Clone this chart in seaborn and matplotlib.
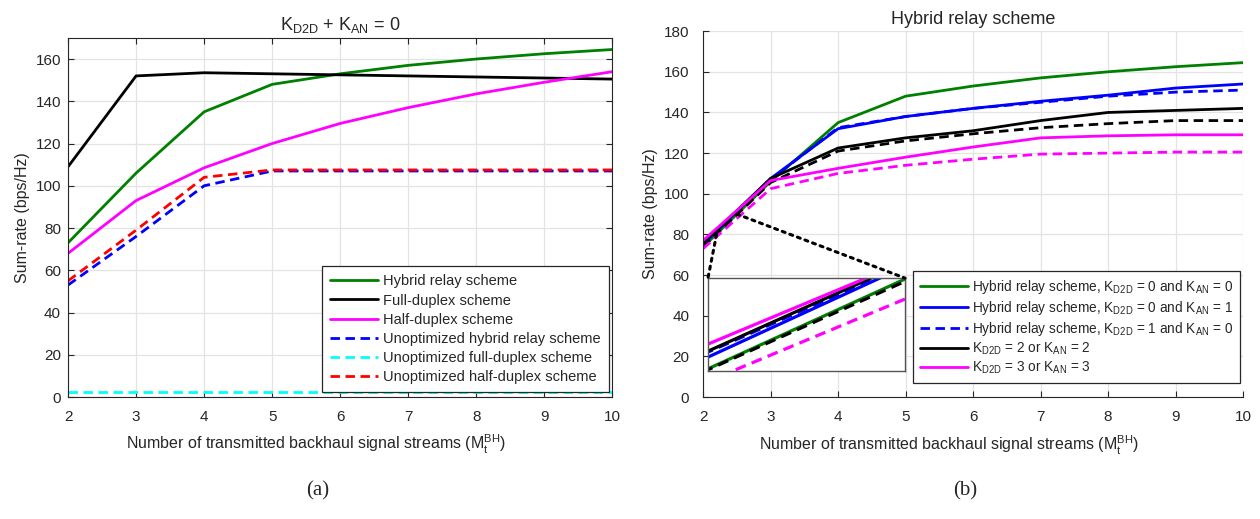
import numpy as np
import pandas as pd
import matplotlib
matplotlib.use("Agg")
import matplotlib.pyplot as plt
import seaborn as sns
from matplotlib.patches import ConnectionPatch

# =========================
# Data
# =========================
streams = [2, 3, 4, 5, 6, 7, 8, 9, 10]

# (a) K_D2D + K_AN = 0
hybrid = [73, 106, 135, 148, 153, 157, 160, 162.5, 164.5]
full_duplex = [109, 152, 153.5, 153, 152.5, 152, 151.5, 151, 150.5]
half_duplex = [68, 93, 108.5, 120, 129.5, 137, 143.5, 149, 154]
unopt_hybrid = [53, 76, 100, 107, 107, 107, 107, 107, 107]
unopt_full = [2.5, 2.5, 2.5, 2.5, 2.5, 2.5, 2.5, 2.5, 2.5]
unopt_half = [55, 79, 104, 107.5, 107.5, 107.5, 107.5, 107.5, 107.5]

# (b) Hybrid relay scheme
k00 = [73.8, 106, 135, 148, 153, 157, 160, 162.5, 164.5]
k01 = [75, 107.5, 132, 138, 142, 145.5, 148.5, 152, 154]
k10 = [75.8, 107, 132.5, 138, 142, 145, 148, 150, 151]
k2_solid = [75.8, 107.5, 122.5, 127.5, 131, 136, 140, 141, 142]
k2_dash = [73.8, 105.5, 121, 126, 129.5, 132.5, 134.5, 136, 136]
k3_solid = [77, 106.5, 112.5, 118, 123, 127.5, 128.5, 129, 129]
k3_dash = [73, 102.5, 110, 114, 117, 119.5, 120, 120.5, 120.5]

zoom_x = [2.2, 2.5]
zoom_y = [80, 90]

GREEN, BLUE, MAG, CYAN, RED = "#008000", "#0000ff", "#ff00ff", "#00ffff", "#ff0000"
DARK = "#262626"

sns.set_theme(style="whitegrid")
plt.rcParams["font.family"] = ["Liberation Sans", "DejaVu Sans"]
plt.rcParams["mathtext.fontset"] = "custom"
plt.rcParams["mathtext.rm"] = "Liberation Sans"
plt.rcParams["mathtext.it"] = "Liberation Sans"

fig = plt.figure(figsize=(12.6, 5.19), dpi=100)
ax1 = fig.add_axes([0.054, 0.235, 0.432, 0.692])
ax2 = fig.add_axes([0.558, 0.235, 0.4286, 0.705])

LW = 2.0


def draw(ax, y, color, ls="-", label=None, lw=LW):
    sns.lineplot(x=streams, y=y, ax=ax, color=color, linewidth=lw,
                 linestyle=ls, label=label, legend=False)
    if ls == "--":
        ax.lines[-1].set_dashes((3.4, 2.0))


def style_axes(ax, box, ypad):
    ax.set_facecolor("white")
    ax.grid(True, color="#e3e3e3", linewidth=0.9)
    ax.set_axisbelow(True)
    for side, sp in ax.spines.items():
        sp.set_color(DARK)
        sp.set_linewidth(0.8)
        if not box and side in ("top", "right"):
            sp.set_visible(False)
    ax.tick_params(direction="in", length=4, width=0.8, colors=DARK,
                   labelsize=11, top=box, right=box, bottom=True, left=True,
                   labelcolor=DARK)
    ax.tick_params(axis="x", pad=9)
    ax.tick_params(axis="y", pad=ypad)
    ax.set_xlim(2, 10)
    ax.set_xticks(streams)
    ax.set_xlabel(r"Number of transmitted backhaul signal streams (M$_\mathregular{t}^\mathregular{BH}$)",
                  fontsize=11.5, color=DARK)
    ax.xaxis.set_label_coords(0.455, -0.1)
    ax.set_ylabel("Sum-rate (bps/Hz)", fontsize=11.5, color=DARK, labelpad=4)


# =========================
# (a)
# =========================
style_axes(ax1, box=True, ypad=5)
draw(ax1, hybrid, GREEN, label="Hybrid relay scheme")
draw(ax1, full_duplex, "black", label="Full-duplex scheme")
draw(ax1, half_duplex, MAG, label="Half-duplex scheme")
draw(ax1, unopt_hybrid, BLUE, "--", label="Unoptimized hybrid relay scheme")
draw(ax1, unopt_full, CYAN, "--", label="Unoptimized full-duplex scheme")
draw(ax1, unopt_half, RED, "--", label="Unoptimized half-duplex scheme")
ax1.set_ylim(0, 170)
ax1.set_yticks(range(0, 161, 20))
ax1.set_title(r"K$_\mathregular{D2D}$ + K$_\mathregular{AN}$ = 0", fontsize=13, color=DARK, pad=6)
leg1 = ax1.legend(loc="lower right", bbox_to_anchor=(0.994, 0.014), fontsize=10.5,
                  frameon=True, fancybox=False, edgecolor=DARK, framealpha=1,
                  borderaxespad=0, handlelength=3.3, handletextpad=0.35,
                  labelspacing=0.35, borderpad=0.55)
leg1.get_frame().set_linewidth(0.9)

# =========================
# (b)
# =========================
style_axes(ax2, box=False, ypad=10)
series_b = [
    (k00, GREEN, "-", r"Hybrid relay scheme, K$_\mathregular{D2D}$ = 0 and K$_\mathregular{AN}$ = 0"),
    (k01, BLUE, "-", r"Hybrid relay scheme, K$_\mathregular{D2D}$ = 0 and K$_\mathregular{AN}$ = 1"),
    (k10, BLUE, "--", r"Hybrid relay scheme, K$_\mathregular{D2D}$ = 1 and K$_\mathregular{AN}$ = 0"),
    (k2_solid, "black", "-", r"K$_\mathregular{D2D}$ = 2 or K$_\mathregular{AN}$ = 2"),
    (k2_dash, "black", "--", None),
    (k3_solid, MAG, "-", r"K$_\mathregular{D2D}$ = 3 or K$_\mathregular{AN}$ = 3"),
    (k3_dash, MAG, "--", None),
]
for y, c, ls, lab in series_b:
    draw(ax2, y, c, ls, label=lab)
ax2.set_ylim(0, 180)
ax2.set_yticks(range(0, 181, 20))
ax2.set_title("Hybrid relay scheme", fontsize=13, color=DARK, pad=5)

handles, labels = ax2.get_legend_handles_labels()
leg2 = ax2.legend(handles, labels, loc="lower right", bbox_to_anchor=(0.994, 0.038),
                  fontsize=9.8, frameon=True, fancybox=False, edgecolor=DARK,
                  framealpha=1, borderaxespad=0, handlelength=3.5,
                  handletextpad=0.3, labelspacing=0.22, borderpad=0.5)
leg2.get_frame().set_linewidth(0.9)

# inset zoom
ax_in = ax2.inset_axes([0.009, 0.071, 0.365, 0.254])
for y, c, ls, lab in series_b:
    draw(ax_in, y, c, ls, lw=2.3)
ax_in.set_xlim(*zoom_x)
ax_in.set_ylim(*zoom_y)
ax_in.set_xticks([])
ax_in.set_yticks([])
ax_in.set_xlabel("")
ax_in.set_ylabel("")
ax_in.set_facecolor("white")
ax_in.grid(False)
for sp in ax_in.spines.values():
    sp.set_color("#555555")
    sp.set_linewidth(1.0)
    sp.set_visible(True)

for (xa, ya), xb in [((zoom_x[0], zoom_y[0]), (0, 1)), ((zoom_x[1], zoom_y[1]), (1, 1))]:
    con = ConnectionPatch(xyA=(xa, ya), coordsA=ax2.transData,
                          xyB=xb, coordsB=ax_in.transAxes,
                          color="black", linestyle=":", linewidth=2.2)
    fig.add_artist(con)

# captions
fig.text(0.2525, 0.045, "(a)", fontsize=15, family=["Liberation Serif", "DejaVu Serif"], ha="center")
fig.text(0.766, 0.045, "(b)", fontsize=15, family=["Liberation Serif", "DejaVu Serif"], ha="center")

fig.savefig("out.png", dpi=100, facecolor="white")
